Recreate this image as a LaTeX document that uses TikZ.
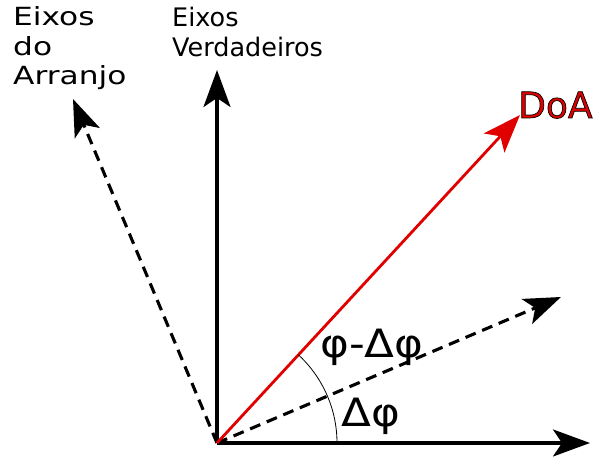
\documentclass[tikz,border=0pt]{standalone}
\usepackage{fontspec}
\setmainfont{DejaVu Sans}
\newfontfamily\widefont[FakeStretch=1.25]{DejaVu Sans}
\newfontfamily\greekfont[FakeStretch=1.12]{DejaVu Sans}
\usetikzlibrary{arrows.meta}
\definecolor{doared}{RGB}{224,0,0}
\begin{document}
\begin{tikzpicture}[x=1pt,y=1pt,
  axis/.style={line width=3.1pt,-{Stealth[length=37pt,width=27pt,inset=9pt]}},
  dashaxis/.style={axis,dash pattern=on 11pt off 7pt},
  doaline/.style={line width=2.8pt,draw=doared,-{Stealth[length=38pt,width=28pt,inset=9pt]}},
  lbl/.style={inner sep=0pt,anchor=base west}]
\useasboundingbox (0,0) rectangle (598,457);
\coordinate (O) at (217,14);
\coordinate (V) at (217,387);
\coordinate (H) at (590,14);
\coordinate (A) at (73,358);
\coordinate (R) at (561,160);
\coordinate (D) at (520,342);
\draw[axis] (O) -- (V);
\draw[axis] (O) -- (H);
\draw[dashaxis] (O) -- (A);
\draw[dashaxis] (O) -- (R);
\draw[doaline] (O) -- (D);
\draw[line width=0.8pt] ([shift={(0:120)}]O) arc[start angle=0,end angle=47.3,radius=120];
\node[lbl,font=\widefont\fontsize{25}{29.5}\selectfont,align=left] (larr) at (13,372) {Eixos\\do\\Arranjo};
\node[lbl,font=\fontsize{25.5}{30}\selectfont,align=left] (lver) at (172,400) {Eixos\\Verdadeiros};
\node[lbl,font=\fontsize{36}{40}\selectfont,text=doared] (ldoa) at (518,339) {\special{pdf:literal direct 0 0 0 RG 0.7 w 2 Tr}DoA\special{pdf:literal direct 0 Tr}};
\node[lbl,font=\greekfont\fontsize{39}{42}\selectfont] (ldiff) at (320,99) {φ-Δφ};
\node[lbl,font=\greekfont\fontsize{39}{42}\selectfont] (ldelta) at (341,30) {Δφ};
\end{tikzpicture}
\end{document}
